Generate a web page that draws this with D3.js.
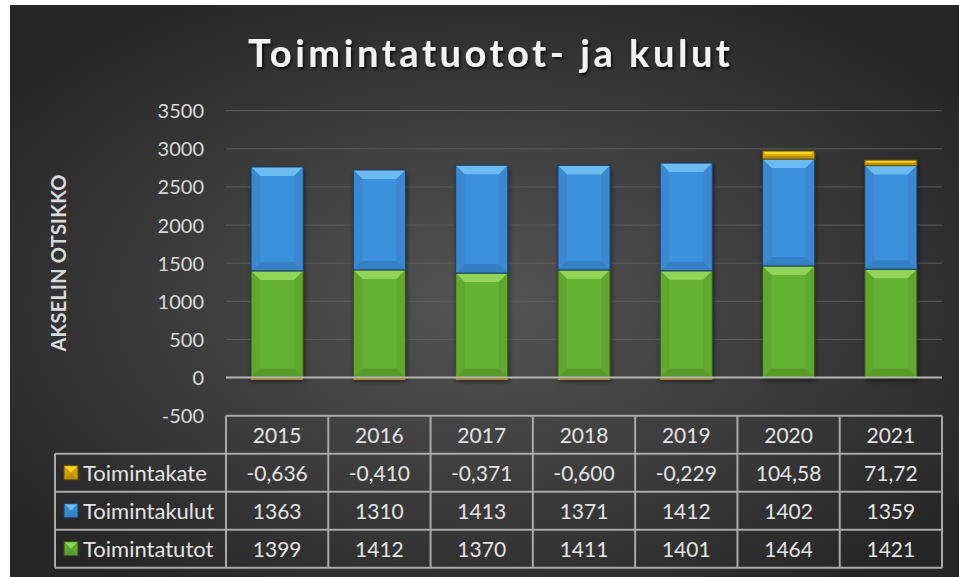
<!DOCTYPE html>
<html>
<head>
<meta charset="utf-8">
<script src="https://cdn.jsdelivr.net/npm/d3@7"></script>
<style>
  body { margin: 0; background: #ffffff; }
  svg { display: block; }
  text { font-family: Lato, "Open Sans", sans-serif; }
</style>
</head>
<body>
<svg id="chart" width="959" height="577"></svg>
<script>
// data
var years = ["2015", "2016", "2017", "2018", "2019", "2020", "2021"];
var seriesNames = ["Toimintakate", "Toimintakulut", "Toimintatutot"];
var toimintatutot = [1399, 1412, 1370, 1411, 1401, 1464, 1421];
var toimintakulut = [1363, 1310, 1413, 1371, 1412, 1402, 1359];
var toimintakate = [-0.636, -0.410, -0.371, -0.600, -0.229, 104.58, 71.72];
var yTicks = [-500, 0, 500, 1000, 1500, 2000, 2500, 3000, 3500];

var W = 959, H = 577;
var svg = d3.select("#chart");
var defs = svg.append("defs");

// background gradient
var bg = defs.append("radialGradient").attr("id", "bg")
  .attr("cx", "50%").attr("cy", "52%").attr("r", "62%");
bg.append("stop").attr("offset", "0%").attr("stop-color", "#555555");
bg.append("stop").attr("offset", "100%").attr("stop-color", "#262626");

var sh = defs.append("filter").attr("id", "shadow")
  .attr("x", "-20%").attr("y", "-20%").attr("width", "140%").attr("height", "140%");
sh.append("feDropShadow").attr("dx", 1).attr("dy", 3).attr("stdDeviation", 2.5)
  .attr("flood-color", "#000").attr("flood-opacity", 0.5);

var tsh = defs.append("filter").attr("id", "tshadow");
tsh.append("feDropShadow").attr("dx", 1.5).attr("dy", 2).attr("stdDeviation", 1.5)
  .attr("flood-color", "#000").attr("flood-opacity", 0.8);

svg.append("rect").attr("x", 10).attr("y", 5).attr("width", W - 10).attr("height", H - 5)
  .attr("fill", "url(#bg)");

// colours for each series: main, top, side, bottom, edge
var palette = {
  "Toimintatutot": { main: "#66b234", top: "#90d55a", side: "#5fa72f", bottom: "#5a9c2c", edge: "#2e4f16" },
  "Toimintakulut": { main: "#3e90db", top: "#6cbcf2", side: "#3a88d0", bottom: "#3680c4", edge: "#1c3f61" },
  "Toimintakate":  { main: "#e0b000", top: "#ffd92a", side: "#cfa000", bottom: "#b88f00", edge: "#6b5200" }
};

// scales
var x = d3.scaleBand().domain(years).range([226, 942])
  .paddingInner(0.49).paddingOuter(0.245);
var col = d3.scaleBand().domain(years).range([226, 942]);
var y = d3.scaleLinear().domain([-500, 3500]).range([415.7, 110.7]);

// title
svg.append("text")
  .attr("x", 489).attr("y", 67)
  .attr("text-anchor", "middle")
  .attr("font-size", 38).attr("font-weight", "bold")
  .attr("textLength", 482).attr("lengthAdjust", "spacing")
  .attr("fill", "#f2f2f2")
  .attr("filter", "url(#tshadow)")
  .text("Toimintatuotot- ja kulut");

// axis title
svg.append("text")
  .attr("transform", "translate(58,263) rotate(-90)")
  .attr("text-anchor", "middle").attr("dominant-baseline", "central")
  .attr("font-size", 20).attr("font-weight", "bold")
  .attr("textLength", 177).attr("lengthAdjust", "spacing")
  .attr("fill", "#d9d9d9")
  .text("AKSELIN OTSIKKO");

// gridlines
svg.append("g").selectAll("line")
  .data(yTicks.filter(function(d) { return d > 0; }))
  .enter().append("line")
  .attr("x1", 226).attr("x2", 942)
  .attr("y1", function(d) { return y(d); }).attr("y2", function(d) { return y(d); })
  .attr("stroke", "#5e5e5e").attr("stroke-width", 1);

// y axis
var yAxis = d3.axisLeft(y).tickValues(yTicks).tickSize(0).tickPadding(0)
  .tickFormat(function(d) { return String(d); });
var ga = svg.append("g")
  .attr("transform", "translate(204,0)")
  .call(yAxis);
ga.select(".domain").remove();
ga.selectAll("text")
  .attr("font-size", 20).attr("fill", "#d9d9d9")
  .style("font-family", "Lato, 'Open Sans', sans-serif")
  .attr("dy", "0.35em");

// stacked segments
var segs = [];
years.forEach(function(yr, i) {
  var base = 0;
  segs.push({ year: yr, name: "Toimintatutot", y0: base, y1: base + toimintatutot[i] });
  base += toimintatutot[i];
  segs.push({ year: yr, name: "Toimintakulut", y0: base, y1: base + toimintakulut[i] });
  base += toimintakulut[i];
  if (toimintakate[i] >= 0) {
    segs.push({ year: yr, name: "Toimintakate", y0: base, y1: base + toimintakate[i] });
  } else {
    segs.push({ year: yr, name: "Toimintakate", y0: toimintakate[i], y1: 0 });
  }
});

function bevel(g, bx, by, bw, bh, c, b) {
  b = Math.min(b, bh / 2, bw / 2);
  g.append("rect").attr("x", bx).attr("y", by).attr("width", bw).attr("height", bh)
    .attr("fill", c.main);
  if (b > 0.5) {
    g.append("polygon").attr("fill", c.top)
      .attr("points", [[bx, by], [bx + bw, by], [bx + bw - b, by + b], [bx + b, by + b]].join(" "));
    g.append("polygon").attr("fill", c.side)
      .attr("points", [[bx, by], [bx + b, by + b], [bx + b, by + bh - b], [bx, by + bh]].join(" "));
    g.append("polygon").attr("fill", c.side)
      .attr("points", [[bx + bw, by], [bx + bw - b, by + b], [bx + bw - b, by + bh - b], [bx + bw, by + bh]].join(" "));
    g.append("polygon").attr("fill", c.bottom)
      .attr("points", [[bx, by + bh], [bx + b, by + bh - b], [bx + bw - b, by + bh - b], [bx + bw, by + bh]].join(" "));
  }
  g.append("rect").attr("x", bx).attr("y", by).attr("width", bw).attr("height", Math.max(bh, 0.5))
    .attr("fill", "none").attr("stroke", c.edge).attr("stroke-width", 1);
}

var barsG = svg.append("g").attr("filter", "url(#shadow)");
segs.forEach(function(s) {
  var g = barsG.append("g");
  var top = y(Math.max(s.y0, s.y1));
  var h = Math.abs(y(s.y0) - y(s.y1));
  var b = s.name == "Toimintakate" ? 3 : 9;
  bevel(g, x(s.year), top, x.bandwidth(), h, palette[s.name], b);
});

// zero line
svg.append("line")
  .attr("x1", 226).attr("x2", 942).attr("y1", y(0)).attr("y2", y(0))
  .attr("stroke", "#b5b5b5").attr("stroke-width", 2);

// make negative Toimintakate visible as a thin gold line under bars
svg.append("g").selectAll("line")
  .data(segs.filter(function(s) { return s.y0 < 0; }))
  .enter().append("line")
  .attr("x1", function(s) { return x(s.year); })
  .attr("x2", function(s) { return x(s.year) + x.bandwidth(); })
  .attr("y1", y(0) + 1.5).attr("y2", y(0) + 1.5)
  .attr("stroke", "#c9a63a").attr("stroke-width", 1.2);

// data table
var rowH = 38;
var tableTop = y(-500);
var legendLeft = 55;
var rows = [
  { name: "Toimintakate", values: toimintakate },
  { name: "Toimintakulut", values: toimintakulut },
  { name: "Toimintatutot", values: toimintatutot }
];

function fmt(v) {
  var s = Math.abs(v) < 1 ? v.toFixed(3) : (Math.round(v) == v ? String(v) : v.toFixed(2));
  return s.replace(".", ",");
}

var tg = svg.append("g");
var lineColor = "#a9a9a9";

// header
tg.selectAll(".yr").data(years).enter().append("text")
  .attr("x", function(d) { return col(d) + col.bandwidth() / 2; })
  .attr("y", tableTop + rowH / 2)
  .attr("text-anchor", "middle").attr("dominant-baseline", "central")
  .attr("font-size", 21).attr("fill", "#e3e3e3")
  .text(function(d) { return d; });

rows.forEach(function(r, ri) {
  var ry = tableTop + rowH * (ri + 1);
  var c = palette[r.name];
  var ig = tg.append("g");
  bevel(ig, 64, ry + rowH / 2 - 7, 14, 14, c, 7);
  tg.append("text")
    .attr("x", 83).attr("y", ry + rowH / 2)
    .attr("dominant-baseline", "central")
    .attr("font-size", 22).attr("fill", "#e3e3e3")
    .text(r.name);
  tg.selectAll(".v" + ri).data(r.values).enter().append("text")
    .attr("x", function(d, i) { return col(years[i]) + col.bandwidth() / 2; })
    .attr("y", ry + rowH / 2)
    .attr("text-anchor", "middle").attr("dominant-baseline", "central")
    .attr("font-size", 21).attr("fill", "#e3e3e3")
    .text(function(d) { return fmt(d); });
});

// table lines
var tableBottom = tableTop + rowH * 4;
tg.append("line").attr("x1", 226).attr("x2", 942).attr("y1", tableTop).attr("y2", tableTop)
  .attr("stroke", lineColor).attr("stroke-width", 2);
for (var k = 1; k <= 4; k++) {
  tg.append("line").attr("x1", legendLeft).attr("x2", 942)
    .attr("y1", tableTop + rowH * k).attr("y2", tableTop + rowH * k)
    .attr("stroke", lineColor).attr("stroke-width", 2);
}
tg.append("line").attr("x1", legendLeft).attr("x2", legendLeft)
  .attr("y1", tableTop + rowH).attr("y2", tableBottom)
  .attr("stroke", lineColor).attr("stroke-width", 2);
years.forEach(function(yr) {
  tg.append("line").attr("x1", col(yr)).attr("x2", col(yr))
    .attr("y1", tableTop).attr("y2", tableBottom)
    .attr("stroke", lineColor).attr("stroke-width", 2);
});
tg.append("line").attr("x1", 942).attr("x2", 942)
  .attr("y1", tableTop).attr("y2", tableBottom)
  .attr("stroke", lineColor).attr("stroke-width", 2);
</script>
</body>
</html>
